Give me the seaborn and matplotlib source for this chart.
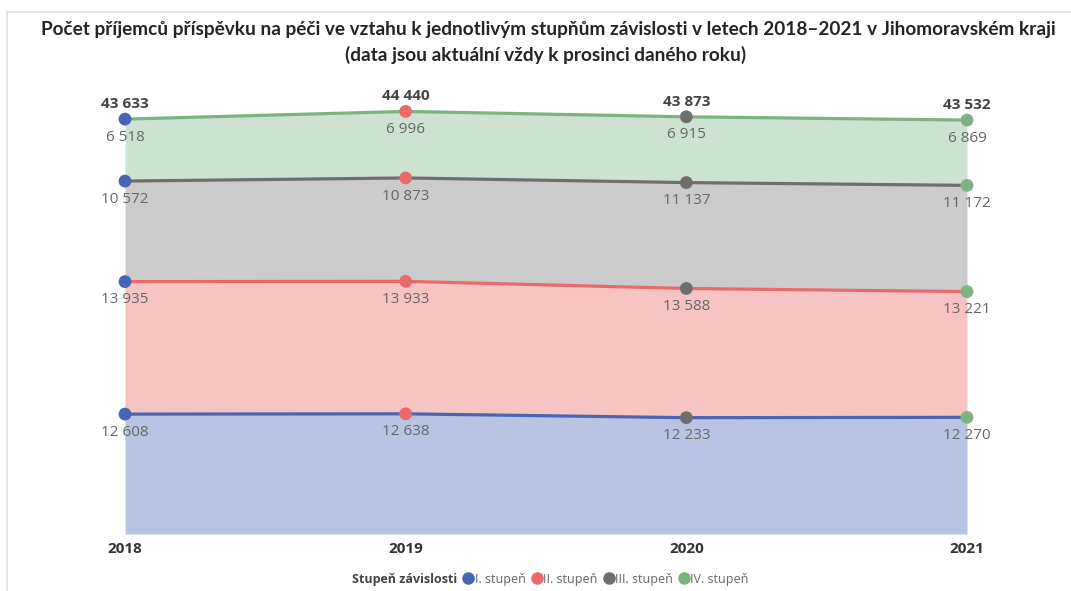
import matplotlib
matplotlib.use("Agg")
import matplotlib.pyplot as plt
from matplotlib.lines import Line2D
import seaborn as sns
import numpy as np
import pandas as pd

years = ["2018", "2019", "2020", "2021"]
series_names = ["I. stupeň", "II. stupeň", "III. stupeň", "IV. stupeň"]
stupen_I = [12608, 12638, 12233, 12270]
stupen_II = [13935, 13933, 13588, 13221]
stupen_III = [10572, 10873, 11137, 11172]
stupen_IV = [6518, 6996, 6915, 6869]
totals = [43633, 44440, 43873, 43532]

line_colors = ["#4A64B4", "#E86A6C", "#6E6E6E", "#7DB282"]
fill_colors = ["#B8C4E1", "#F7C4C4", "#CBCBCB", "#CEE2D1"]

sns.set_theme(style="white")
plt.rcParams["font.family"] = ["Open Sans", "DejaVu Sans"]

fig = plt.figure(figsize=(10.71, 5.91), dpi=100)
ax = fig.add_axes([125 / 1071, 1 - 534 / 591, (967 - 125) / 1071, 437.4 / 591])

x = np.arange(len(years))
values = [stupen_I, stupen_II, stupen_III, stupen_IV]
cum = np.cumsum(np.array(values), axis=0)
bottom = np.zeros(len(years))
for i, (name, vals) in enumerate(zip(series_names, values)):
    top = cum[i]
    ax.fill_between(x, bottom, top, color=fill_colors[i], linewidth=0, zorder=1)
    df = pd.DataFrame({"x": x, "y": top})
    sns.lineplot(data=df, x="x", y="y", ax=ax, color=line_colors[i], linewidth=2.3,
                 zorder=3, legend=False)
    bottom = top

# markers coloured by year position (as in the original)
pts = pd.DataFrame({
    "x": np.tile(x, 4),
    "y": cum.flatten(),
    "year": np.tile(years, 4),
})
sns.scatterplot(data=pts, x="x", y="y", hue="year", palette=dict(zip(years, line_colors)),
                s=85, edgecolor="none", ax=ax, zorder=4, legend=False, clip_on=False)

for i, vals in enumerate(values):
    for j, v in enumerate(vals):
        ax.annotate(f"{v:,}".replace(",", " "), (x[j], cum[i][j]), xytext=(0, -13),
                    textcoords="offset points", ha="center", va="center",
                    fontsize=11, color="#666666", zorder=5)
for j, t in enumerate(totals):
    ax.annotate(f"{t:,}".replace(",", " "), (x[j], cum[-1][j]), xytext=(0, 11),
                textcoords="offset points", ha="center", va="center",
                fontsize=11, fontweight="bold", color="#444444", zorder=5)

ax.set_xlim(0, 3)
ax.set_ylim(0, 46000)
ax.set_xticks(x)
ax.set_xticklabels(years, fontsize=11, fontweight="bold", color="#333333")
ax.tick_params(axis="x", length=0, pad=6)
ax.set_yticks([])
ax.set_xlabel("")
ax.set_ylabel("")
for s in ax.spines.values():
    s.set_visible(False)

title_font = ["Lato", "DejaVu Sans"]
fig.text(548 / 1071, 1 - 29 / 591,
         "Počet příjemců příspěvku na péči ve vztahu k jednotlivým stupňům závislosti v letech 2018–2021 v Jihomoravském kraji",
         ha="center", va="center", fontsize=13.7, fontweight="bold", color="#252423",
         family=title_font)
fig.text(546 / 1071, 1 - 55 / 591, "(data jsou aktuální vždy k prosinci daného roku)",
         ha="center", va="center", fontsize=13.7, fontweight="bold", color="#252423",
         family=title_font)

# frame lines
fig.add_artist(Line2D([6.5 / 1071, 6.5 / 1071], [0, 1 - 12 / 591], color="#E3E3E3", lw=1.5))
fig.add_artist(Line2D([6.5 / 1071, 1], [1 - 12 / 591, 1 - 12 / 591], color="#E3E3E3", lw=1.5))

handles = [Line2D([], [], linestyle="none", marker="")]
handles += [Line2D([], [], linestyle="none", marker="o", markersize=8, color=c) for c in line_colors]
labels = ["Stupeň závislosti"] + series_names
leg = fig.legend(handles, labels, loc="center", bbox_to_anchor=(544 / 1071, 1 - 579 / 591),
                 ncol=5, frameon=False, fontsize=9, handletextpad=0.0,
                 columnspacing=0.4, handlelength=1.0)
for t in leg.get_texts():
    t.set_color("#666666")
leg.get_texts()[0].set_fontweight("bold")
leg.get_texts()[0].set_color("#444444")

fig.savefig("out.png", dpi=100, facecolor="white")
